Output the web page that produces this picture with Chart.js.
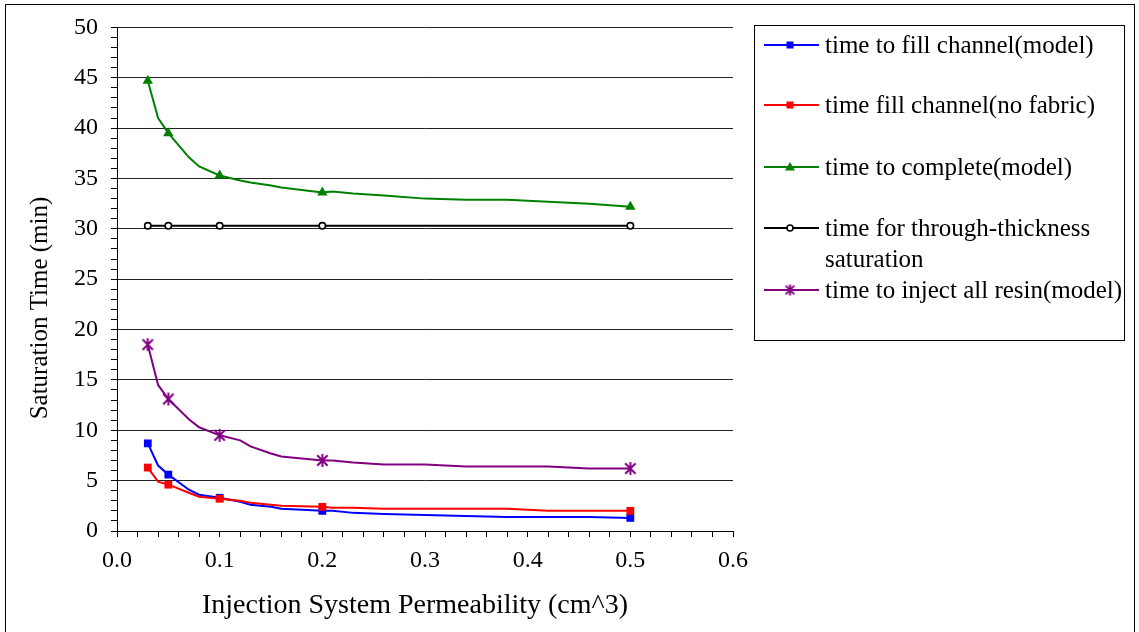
<!DOCTYPE html>
<html><head><meta charset="utf-8">
<script src="https://cdn.jsdelivr.net/npm/chart.js@4.4.1/dist/chart.umd.min.js"></script>
<style>html,body{margin:0;padding:0;background:#fff;}canvas{display:block;}</style>
</head><body>
<canvas id="c" width="1139" height="632"></canvas>
<script>
// ---- data ----
const permeability = [0.03, 0.04, 0.05, 0.07, 0.08, 0.10, 0.12, 0.13, 0.15, 0.16, 0.20, 0.21, 0.23, 0.26, 0.30, 0.34, 0.38, 0.42, 0.46, 0.50];
const markerPermeability = [0.03, 0.05, 0.10, 0.20, 0.50];
const fillChannelModel   = [8.7, 6.5, 5.6, 4.1, 3.6, 3.3, 2.9, 2.6, 2.4, 2.2, 2.0, 2.0, 1.8, 1.7, 1.6, 1.5, 1.4, 1.4, 1.4, 1.3];
const fillChannelNoFabric= [6.3, 4.9, 4.6, 3.8, 3.4, 3.2, 3.0, 2.8, 2.6, 2.5, 2.4, 2.3, 2.3, 2.2, 2.2, 2.2, 2.2, 2.0, 2.0, 2.0];
const completeModel      = [44.7, 41.0, 39.5, 37.1, 36.2, 35.3, 34.8, 34.6, 34.3, 34.1, 33.6, 33.7, 33.5, 33.3, 33.0, 32.9, 32.9, 32.7, 32.5, 32.2];
const throughThickness   = [30.3, 30.3, 30.3, 30.3, 30.3];
const injectAllResin     = [18.5, 14.5, 13.1, 11.1, 10.3, 9.5, 9.0, 8.4, 7.7, 7.4, 7.0, 7.0, 6.8, 6.6, 6.6, 6.4, 6.4, 6.4, 6.2, 6.2];
const seriesLabels = [
  'time to fill channel(model)',
  'time fill channel(no fabric)',
  'time to complete(model)',
  'time for through-thickness saturation',
  'time to inject all resin(model)'
];
const xTitle = 'Injection System Permeability (cm^3)';
const yTitle = 'Saturation Time (min)';

const FONT = "'Liberation Serif', 'Times New Roman', serif";

function starCanvas(color, size, lw) {
  const c = document.createElement('canvas');
  c.width = c.height = size;
  const g = c.getContext('2d');
  g.strokeStyle = color; g.lineWidth = lw;
  const m = size / 2, r = size / 2 - 1, d = r * 0.8;
  g.beginPath();
  g.moveTo(m - d, m - d); g.lineTo(m + d, m + d);
  g.moveTo(m + d, m - d); g.lineTo(m - d, m + d);
  g.moveTo(m, m - r); g.lineTo(m, m + r);
  g.stroke();
  return c;
}
const starImg = starCanvas('#800080', 15, 2);
const starImgSmall = starCanvas('#800080', 13, 2);

function series(label, xsArr, ys, color, style, r, extra) {
  return Object.assign({
    label,
    data: xsArr.map((x, i) => ({x, y: ys[i]})),
    borderColor: color,
    backgroundColor: color,
    borderWidth: 2,
    showLine: true,
    tension: 0,
    pointStyle: style,
    pointRadius: xsArr.map(x => markerPermeability.includes(x) ? r : 0),
    pointHoverRadius: 0,
    pointBorderWidth: 0,
    pointBackgroundColor: color,
    clip: false
  }, extra || {});
}

const datasets = [
  series(seriesLabels[4], permeability, injectAllResin, '#800080', starImg, 7),
  series(seriesLabels[3], markerPermeability, throughThickness, '#000000', 'circle', 3.2,
    {pointBackgroundColor: '#ffffff', pointBorderColor: '#000000', pointBorderWidth: 1.6}),
  series(seriesLabels[2], permeability, completeModel, '#008000', 'triangle', 6),
  series(seriesLabels[1], permeability, fillChannelNoFabric, '#FF0000', 'rect', 5.5),
  series(seriesLabels[0], permeability, fillChannelModel, '#0000FF', 'rect', 5.5)
];

const legendEntries = [
  {lines: [seriesLabels[0]], color: '#0000FF', marker: 'rect', y: 45},
  {lines: [seriesLabels[1]], color: '#FF0000', marker: 'rect', y: 105},
  {lines: [seriesLabels[2]], color: '#008000', marker: 'triangle', y: 167},
  {lines: ['time for through-thickness', 'saturation'], color: '#000000', marker: 'circle', y: 228},
  {lines: [seriesLabels[4]], color: '#800080', marker: 'star', y: 290}
];

const decor = {
  id: 'decor',
  afterDraw(chart) {
    const ctx = chart.ctx;
    ctx.save();
    // outer frame
    ctx.strokeStyle = '#000'; ctx.lineWidth = 1;
    ctx.strokeRect(5.5, 4.5, 1129, 640);
    // axis titles
    ctx.fillStyle = '#000';
    ctx.textAlign = 'center'; ctx.textBaseline = 'middle';
    ctx.font = '28px ' + FONT;
    ctx.fillText(xTitle, 415, 606);
    ctx.font = '25px ' + FONT;
    ctx.save();
    ctx.translate(40, 308);
    ctx.rotate(-Math.PI / 2);
    ctx.fillText(yTitle, 0, 0);
    ctx.restore();
    // legend box
    ctx.strokeRect(754.5, 25.5, 370, 315);
    ctx.font = '25px ' + FONT;
    ctx.textAlign = 'left';
    legendEntries.forEach(e => {
      ctx.strokeStyle = e.color; ctx.lineWidth = 2;
      ctx.beginPath(); ctx.moveTo(764, e.y); ctx.lineTo(819, e.y); ctx.stroke();
      ctx.fillStyle = e.color;
      const mx = 790, my = e.y;
      if (e.marker === 'rect') {
        ctx.fillRect(mx - 3.5, my - 3.5, 7, 7);
      } else if (e.marker === 'triangle') {
        ctx.beginPath(); ctx.moveTo(mx, my - 5); ctx.lineTo(mx + 5, my + 3.5); ctx.lineTo(mx - 5, my + 3.5); ctx.closePath(); ctx.fill();
      } else if (e.marker === 'circle') {
        ctx.fillStyle = '#fff'; ctx.lineWidth = 1.5; ctx.strokeStyle = '#000';
        ctx.beginPath(); ctx.arc(mx, my, 3, 0, Math.PI * 2); ctx.fill(); ctx.stroke();
      } else if (e.marker === 'star') {
        ctx.drawImage(starImgSmall, mx - starImgSmall.width / 2, my - starImgSmall.height / 2);
      }
      ctx.fillStyle = '#000';
      e.lines.forEach((t, i) => ctx.fillText(t, 825, e.y + 1 + i * 31));
    });
    ctx.restore();
  }
};

const isMajorX = v => Math.abs(v * 10 - Math.round(v * 10)) < 1e-6;

new Chart(document.getElementById('c'), {
  type: 'scatter',
  data: {datasets},
  options: {
    responsive: false,
    animation: false,
    devicePixelRatio: 1,
    layout: {padding: {left: 0, top: 27, right: 406, bottom: 0}},
    plugins: {legend: {display: false}, tooltip: {enabled: false}, title: {display: false}},
    scales: {
      x: {
        type: 'linear', min: 0, max: 0.6,
        afterFit: s => { s.height = 101; },
        ticks: {
          stepSize: 0.02, autoSkip: false, maxRotation: 0, padding: 9,
          color: '#000', font: {family: FONT, size: 24},
          callback: v => isMajorX(v) ? v.toFixed(1) : ''
        },
        grid: {
          drawOnChartArea: false, drawTicks: true, tickLength: 6,
          color: 'transparent', tickColor: '#000', tickWidth: 1
        },
        border: {display: true, color: '#000', width: 1}
      },
      y: {
        type: 'linear', min: 0, max: 50,
        afterFit: s => { s.width = 117; },
        ticks: {
          stepSize: 1, autoSkip: false, padding: 13,
          color: '#000', font: {family: FONT, size: 24},
          callback: v => (v % 5 === 0) ? String(v) : ''
        },
        grid: {
          drawTicks: true, tickLength: 6,
          color: c => (c.tick && c.tick.value % 5 === 0 && c.tick.value > 0) ? '#222' : 'transparent',
          tickColor: '#000', lineWidth: 1, tickWidth: 1
        },
        border: {display: true, color: '#000', width: 1}
      }
    }
  },
  plugins: [decor]
});
</script>
</body></html>
